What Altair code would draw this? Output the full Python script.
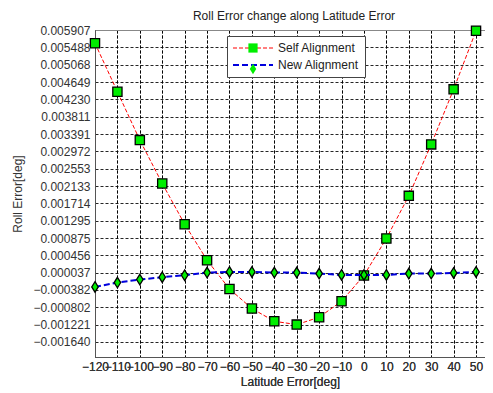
import altair as alt
import pandas as pd

lat = [-120, -110, -100, -90, -80, -70, -60, -50, -40, -30, -20, -10, 0, 10, 20, 30, 40, 50]
self_align = [0.005585, 0.004413, 0.003244, 0.002195, 0.001210, 0.000338, -0.000357, -0.000831,
              -0.001139, -0.001219, -0.001042, -0.000654, -0.000030, 0.000864, 0.001895, 0.003140,
              0.004471, 0.005890]
new_align = [-0.000308, -0.000202, -0.000129, -0.000073, -0.000025, 0.000040, 0.000055, 0.000055,
             0.000040, 0.000040, 0.000016, -0.000018, -0.000018, -0.000018, 0.000016, 0.000016,
             0.000030, 0.000055]
series_names = ["Self Alignment", "New Alignment"]
marker_keys = ["Self marker", "New marker"]
y_ticks = [0.005907, 0.005488, 0.005068, 0.004649, 0.004230, 0.003811, 0.003391, 0.002972,
           0.002553, 0.002133, 0.001714, 0.001295, 0.000875, 0.000456, 0.000037, -0.000382,
           -0.000802, -0.001221, -0.001640]
x_ticks = [-120, -110, -100, -90, -80, -70, -60, -50, -40, -30, -20, -10, 0, 10, 20, 30, 40, 50]

rows = []
for name, key, vals in zip(series_names, marker_keys, [self_align, new_align]):
    for x, v in zip(lat, vals):
        rows.append({"lat": x, "err": v, "series": name, "series_s": key})
df = pd.DataFrame(rows)

FONT = "Liberation Sans"
DIAMOND = "M0,-1L0.62,0L0,1L-0.62,0Z"
LINE_SYM = "M-4,0L4,0"

xscale = alt.Scale(domain=[-120, 54], nice=False, zero=False)
yscale = alt.Scale(domain=[-0.002003, 0.005907], nice=False, zero=False)

x_bottom = alt.Axis(values=x_ticks, tickCount=len(x_ticks) + 2, format="d",
                    title="Latitude Error[deg]", labelOverlap=False,
                    labelFlush=False, grid=True, gridColor="black", gridDash=[3, 2], gridOpacity=0.85,
                    ticks=False, tickSize=0, labelPadding=4, titlePadding=4, domainColor="#555",
                    labelFont=FONT, labelFontSize=12, labelColor="#333", titleFont=FONT,
                    titleFontSize=12, titleFontWeight="normal", titleColor="#333")
x_top = alt.Axis(orient="top", labels=False, ticks=False, grid=False, title=None, domainColor="#888")
y_axis = alt.Axis(values=y_ticks, tickCount=len(y_ticks) + 2, format=".6f",
                  title="Roll Error[deg]", labelOverlap=False,
                  labelFlush=False, grid=True, gridColor="black", gridDash=[3, 2], gridOpacity=0.85,
                  ticks=False, tickSize=0, labelPadding=5, titlePadding=8, domainColor="#555",
                  labelFont=FONT, labelFontSize=12, labelColor="#333", titleFont=FONT,
                  titleFontSize=12, titleFontWeight="normal", titleColor="#333")

leg_line = alt.Legend(title=None, orient="none", legendX=132, legendY=6, symbolType=LINE_SYM,
                      symbolSize=100, symbolOffset=14, symbolFillColor="transparent",
                      labelFont=FONT, labelFontSize=12, labelColor="#222",
                      labelOffset=19, rowPadding=5, padding=6, strokeColor="#444", fillColor="white",
                      zindex=1, labelLimit=200)
leg_shape = alt.Legend(title=None, orient="none", legendX=132, legendY=6, symbolOffset=14,
                       symbolFillColor="#00ee00", symbolStrokeColor="black", symbolStrokeWidth=1.3,
                       labelFont=FONT, labelFontSize=12, labelExpr="''", labelOffset=19,
                       rowPadding=5, padding=6, zindex=2, labelLimit=200)

color_enc = alt.Color("series:N", scale=alt.Scale(domain=series_names, range=["#ff0000", "#0000dd"]),
                      legend=leg_line)
dash_enc = alt.StrokeDash("series:N", scale=alt.Scale(domain=series_names, range=[[4, 2], [6, 3]]),
                          legend=leg_line)
width_enc = alt.StrokeWidth("series:N", scale=alt.Scale(domain=series_names, range=[1.0, 2.0]),
                            legend=leg_line)
shape_enc = alt.Shape("series_s:N", scale=alt.Scale(domain=marker_keys, range=["square", DIAMOND]),
                      legend=leg_shape)
size_enc = alt.Size("series_s:N", scale=alt.Scale(domain=marker_keys, range=[85, 110]),
                    legend=leg_shape)


def line_layer(name, axis):
    return alt.Chart(df).transform_filter(alt.datum.series == name).mark_line().encode(
        x=alt.X("lat:Q", scale=xscale, axis=axis),
        y=alt.Y("err:Q", scale=yscale, axis=y_axis),
        color=color_enc, strokeDash=dash_enc, strokeWidth=width_enc, order="lat:Q")


def point_layer(key):
    return alt.Chart(df).transform_filter(alt.datum.series_s == key).mark_point(
        filled=True, fill="#00ee00", stroke="black", strokeWidth=1.3, opacity=1).encode(
        x=alt.X("lat:Q", scale=xscale, axis=x_top),
        y=alt.Y("err:Q", scale=yscale, axis=y_axis),
        shape=shape_enc, size=size_enc)


chart = alt.layer(
    line_layer("Self Alignment", x_bottom),
    point_layer("Self marker"),
    line_layer("New Alignment", x_bottom),
    point_layer("New marker"),
).resolve_axis(x="independent").properties(
    width=390, height=327,
    title=alt.Title("Roll Error change along Latitude Error", font=FONT, fontSize=12,
                    fontWeight="normal", color="#222", offset=0, dx=4),
    autosize=alt.AutoSizeParams(type="none"),
    padding={"left": 87, "top": 22, "right": 0, "bottom": 36},
).configure_view(stroke=None).configure(background="white")

chart.save("out.html", embed_options={"renderer": "svg", "actions": False})
